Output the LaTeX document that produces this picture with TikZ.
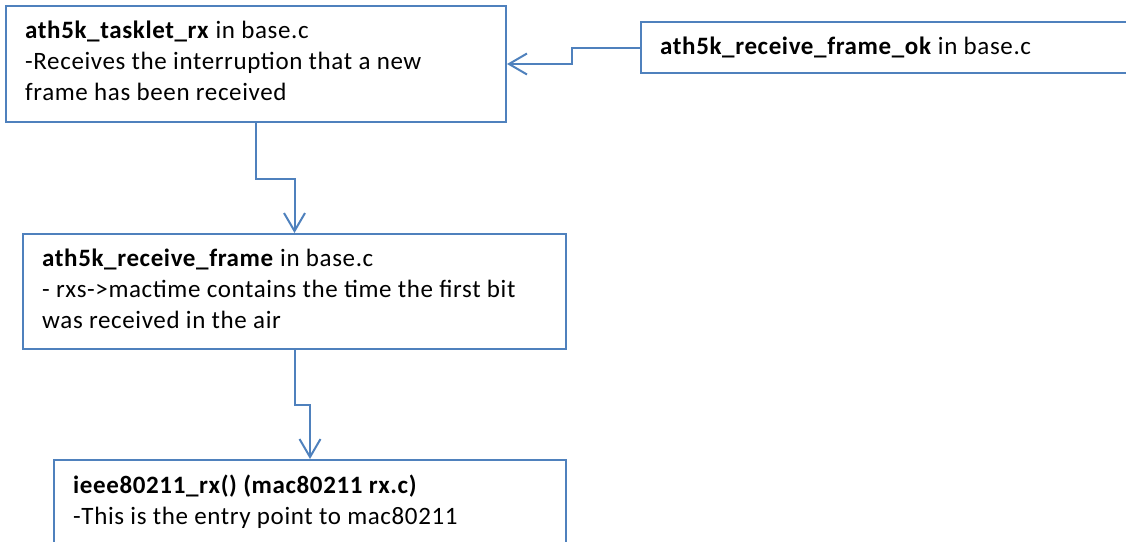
\documentclass[tikz,border=0pt]{standalone}
\usepackage{fontspec}
\setmainfont{Carlito}[LetterSpace=2.5]
\usetikzlibrary{arrows.meta}
\definecolor{boxblue}{RGB}{79,129,189}
\tikzset{
  box/.style={draw=boxblue, line width=2pt, anchor=north west, inner sep=0pt},
  txt/.style={anchor=north west, align=left, inner sep=0pt, font=\fontsize{25}{31}\selectfont},
  link/.style={draw=boxblue, line width=2pt, -{Straight Barb[length=18pt,width=21pt]}}
}
\begin{document}
\begin{tikzpicture}[x=1pt,y=-1pt]
\useasboundingbox (0,0) rectangle (1126,541);
\clip (0,0) rectangle (1126,541);
% boxes
\node[box, minimum width=500pt, minimum height=116pt] (tasklet) at (5,5) {};
\node[box, minimum width=520pt, minimum height=51pt] (frameok) at (640,21) {};
\node[box, minimum width=543pt, minimum height=115pt] (recv) at (22,233) {};
\node[box, minimum width=512pt, minimum height=120pt] (ieee) at (53,459) {};
% texts
\node[txt] (taskletText) at ([xshift=20pt,yshift=-15.5pt]tasklet.north west)
  {\textbf{ath5k\_tasklet\_rx} in base.c\\-Receives the interruption that a new\\frame has been received};
\node[txt] (frameokText) at ([xshift=20pt,yshift=-15.5pt]frameok.north west)
  {\textbf{ath5k\_receive\_frame\_ok} in base.c};
\node[txt] (recvText) at ([xshift=20pt,yshift=-15.5pt]recv.north west)
  {\textbf{ath5k\_receive\_frame} in base.c\\- rxs->mactime contains the time the first bit\\was received in the air};
\node[txt] (ieeeText) at ([xshift=20pt,yshift=-15.5pt]ieee.north west)
  {\textbf{ieee80211\_rx() (mac80211 rx.c)}\\-This is the entry point to mac80211};
% connectors
\draw[link] (frameok.west) -- ++(-68,0) |- (tasklet.east);
\draw[link] (tasklet.south) -- ++(0,56) -| (recv.north);
\draw[link] (recv.south) -- ++(0,55) -| (ieee.north);
\end{tikzpicture}
\end{document}
